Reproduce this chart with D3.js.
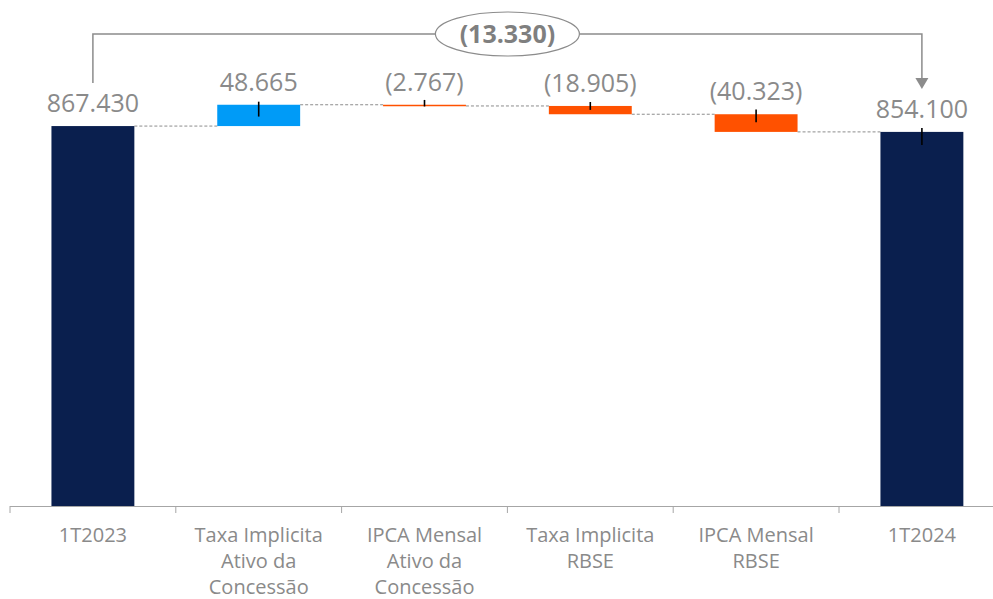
<!DOCTYPE html>
<meta charset="utf-8" />
<script src="https://d3js.org/d3.v7.min.js"></script>
<style>
  body { margin: 0; background: #fff; }
  text { font-family: "Open Sans", sans-serif; }
</style>
<body>
<div id="chart"></div>
<script>
// categories (one entry per line of the label)
var categories = [
  ["1T2023"],
  ["Taxa Implicita", "Ativo da", "Concessão"],
  ["IPCA Mensal", "Ativo da", "Concessão"],
  ["Taxa Implicita", "RBSE"],
  ["IPCA Mensal", "RBSE"],
  ["1T2024"]
];
var values = [867430, 48665, -2767, -18905, -40323, 854100];
var kinds = ["total", "delta", "delta", "delta", "delta", "total"];
// little black marks on the bars (above / below the bar top, same units)
var markUp = [0, 7000, 11000, 9000, 11000, 9000];
var markDown = [0, 27000, 4000, 9000, 18000, 30000];

var width = 993, height = 599;
var margin = { left: 10, bottom: 93 };

var svg = d3.select("#chart").append("svg")
  .attr("width", width)
  .attr("height", height);

var keys = categories.map(function(d, i) { return "c" + i; });

var x = d3.scaleBand()
  .domain(keys)
  .range([margin.left, margin.left + 6 * 165.8])
  .paddingInner(0.5)
  .paddingOuter(0.25);

var y = d3.scaleLinear()
  .domain([0, 1000000])
  .range([height - margin.bottom, 68]);

var fmt = d3.formatLocale({ decimal: ",", thousands: ".", grouping: [3], currency: ["R$", ""] }).format(",d");
function label(v) { return v < 0 ? "(" + fmt(-v) + ")" : fmt(v); }

// build running totals
var bars = [];
var run = 0;
values.forEach(function(v, i) {
  var b = { key: keys[i], value: v, kind: kinds[i], up: markUp[i], down: markDown[i] };
  if (b.kind == "total") {
    b.y0 = 0; b.y1 = v; run = v;
  } else {
    b.y0 = run; b.y1 = run + v; run = run + v;
  }
  b.end = run;
  bars.push(b);
});

function color(d) {
  if (d.kind == "total") return "#0a1f4e";
  return d.value >= 0 ? "#009bf7" : "#ff5100";
}

// axis line and ticks at band boundaries
var axisY = y(0);
svg.append("line")
  .attr("x1", margin.left).attr("x2", width)
  .attr("y1", axisY + 0.5).attr("y2", axisY + 0.5)
  .attr("stroke", "#a6a6a6");

svg.selectAll(".tick")
  .data(keys)
  .enter().append("line")
  .attr("x1", function(d) { return x(d) - x.step() * 0.25; })
  .attr("x2", function(d) { return x(d) - x.step() * 0.25; })
  .attr("y1", axisY)
  .attr("y2", axisY + 7)
  .attr("stroke", "#a6a6a6");

// connectors
svg.selectAll(".conn")
  .data(bars.slice(0, -1))
  .enter().append("line")
  .attr("x1", function(d) { return x(d.key) + x.bandwidth(); })
  .attr("x2", function(d, i) { return x(bars[i + 1].key); })
  .attr("y1", function(d) { return y(d.end); })
  .attr("y2", function(d) { return y(d.end); })
  .attr("stroke", "#8c8c8c")
  .attr("stroke-dasharray", "3,2");

// bars
svg.selectAll(".bar")
  .data(bars)
  .enter().append("rect")
  .attr("x", function(d) { return x(d.key); })
  .attr("width", x.bandwidth())
  .attr("y", function(d) { return y(Math.max(d.y0, d.y1)); })
  .attr("height", function(d) { return Math.max(1.5, Math.abs(y(d.y0) - y(d.y1))); })
  .attr("fill", color);

// black marks
svg.selectAll(".mark")
  .data(bars.filter(function(d) { return d.up + d.down > 0; }))
  .enter().append("line")
  .attr("x1", function(d) { return x(d.key) + x.bandwidth() / 2; })
  .attr("x2", function(d) { return x(d.key) + x.bandwidth() / 2; })
  .attr("y1", function(d) { return y(Math.max(d.y0, d.y1) + d.up); })
  .attr("y2", function(d) { return y(Math.max(d.y0, d.y1) - d.down); })
  .attr("stroke", "#000")
  .attr("stroke-width", 1.6);

// value labels
svg.selectAll(".val")
  .data(bars)
  .enter().append("text")
  .attr("x", function(d) { return x(d.key) + x.bandwidth() / 2; })
  .attr("y", function(d) { return y(Math.max(d.y0, d.y1)) - 14; })
  .attr("text-anchor", "middle")
  .attr("font-size", 25)
  .attr("fill", "#8a8a8a")
  .text(function(d) { return label(d.value); });

// category labels
var cat = svg.selectAll(".cat")
  .data(categories)
  .enter().append("text")
  .attr("text-anchor", "middle")
  .attr("font-size", 20)
  .attr("fill", "#8a8a8a")
  .attr("transform", function(d, i) { return "translate(" + (x(keys[i]) + x.bandwidth() / 2) + "," + (axisY + 36) + ")"; });

cat.selectAll("tspan")
  .data(function(d) { return d; })
  .enter().append("tspan")
  .attr("x", 0)
  .attr("y", function(d, i) { return i * 26; })
  .text(function(d) { return d; });

// total variation bracket
var first = bars[0], last = bars[bars.length - 1];
var bx1 = x(first.key) + x.bandwidth() / 2;
var bx2 = x(last.key) + x.bandwidth() / 2;
var by = 34;
svg.append("path")
  .attr("d", "M" + bx1 + "," + (y(first.y1) - 43) + "V" + by + "H" + bx2 + "V" + (y(last.y1) - 52))
  .attr("fill", "none")
  .attr("stroke", "#8c8c8c")
  .attr("stroke-width", 1.5);

svg.append("path")
  .attr("d", "M" + (bx2 - 6.5) + "," + (y(last.y1) - 54) + "L" + (bx2 + 6.5) + "," + (y(last.y1) - 54) + "L" + bx2 + "," + (y(last.y1) - 43) + "Z")
  .attr("fill", "#8c8c8c");

var cx = (bx1 + bx2) / 2;
svg.append("ellipse")
  .attr("cx", cx).attr("cy", by)
  .attr("rx", 72).attr("ry", 22)
  .attr("fill", "#fff")
  .attr("stroke", "#8c8c8c")
  .attr("stroke-width", 1.2);

svg.append("text")
  .attr("x", cx).attr("y", by + 9)
  .attr("text-anchor", "middle")
  .attr("font-size", 25)
  .attr("font-weight", "bold")
  .attr("fill", "#7f7f7f")
  .text(label(last.value - first.value));
</script>
</body>
